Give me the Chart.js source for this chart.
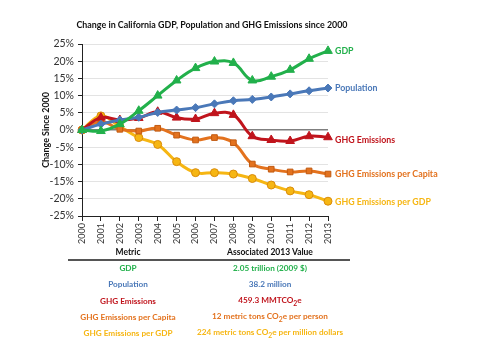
<!DOCTYPE html>
<html>
<head>
<meta charset="utf-8">
<script src="https://cdn.jsdelivr.net/npm/chart.js@4"></script>
<style>
    body { margin: 0; background: #fff; }
    .wrap { position: relative; width: 480px; height: 360px; font-family: Lato, sans-serif; }
    .chartbox { position: absolute; left: 0; top: 0; width: 480px; height: 250px; }
    .cell { position: absolute; transform: translate(-50%, -50%); white-space: nowrap; font-weight: bold; font-size: 8.2px; }
    .rule { position: absolute; left: 68px; top: 259px; width: 282px; height: 2px; background: #555; }
</style>
</head>
<body>
<div class="wrap">
    <div class="chartbox"><canvas id="chart" width="480" height="250"></canvas></div>
    <div class="rule"></div>
    <div id="table"></div>
</div>
<script>
let years = ['2000', '2001', '2002', '2003', '2004', '2005', '2006', '2007', '2008', '2009', '2010', '2011', '2012', '2013']
let gdp = [0, -0.3, 1.7, 5.6, 10.0, 14.4, 18.0, 19.9, 19.5, 14.4, 15.5, 17.5, 20.7, 23.0]
let population = [0, 1.7, 2.9, 3.7, 5.1, 5.8, 6.5, 7.6, 8.5, 8.9, 9.6, 10.5, 11.4, 12.2]
let emissions = [0, 3.6, 2.9, 3.5, 5.3, 3.6, 3.2, 4.9, 4.4, -1.8, -2.9, -3.2, -1.8, -2.1]
let perCapita = [0, 2.5, 0.2, -0.3, 0.5, -1.5, -2.9, -2.2, -3.7, -9.9, -11.4, -12.2, -11.9, -12.8]
let perGdp = [0, 4.1, 1.0, -2.2, -4.2, -9.2, -12.4, -12.4, -12.8, -14.1, -16.0, -17.7, -18.8, -20.7]
let yTicks = [25, 20, 15, 10, 5, 0, -5, -10, -15, -20, -25]

let metrics = ['GDP', 'Population', 'GHG Emissions', 'GHG Emissions per Capita', 'GHG Emissions per GDP']
let values2013 = ['2.05 trillion (2009 $)', '38.2 million', '459.3 MMTCO<sub>2</sub>e',
    '12 metric tons CO<sub>2</sub>e per person', '224 metric tons CO<sub>2</sub>e per million dollars']
let colors = ['#22b04b', '#4a78b8', '#c0141c', '#e3721e', '#f6b613']
let chartTitle = 'Change in California GDP, Population and GHG Emissions since 2000'

// tabelka pod wykresem
let table = document.querySelector('#table')
let head = [['Metric', 128], ['Associated 2013 Value', 270]]
head.forEach(h => {
    let d = document.createElement('div')
    d.className = 'cell'
    d.style.left = h[1] + 'px'
    d.style.top = '252px'
    d.style.color = '#111'
    d.style.fontSize = '8.5px'
    d.innerHTML = h[0]
    table.append(d)
})
metrics.forEach((m, i) => {
    let y = 268 + i * 16.3
    let a = document.createElement('div')
    a.className = 'cell'
    a.style.left = '128px'
    a.style.top = y + 'px'
    a.style.color = colors[i]
    a.innerHTML = m
    table.append(a)
    let b = document.createElement('div')
    b.className = 'cell'
    b.style.left = '270px'
    b.style.top = y + 'px'
    b.style.color = colors[i]
    b.innerHTML = values2013[i]
    table.append(b)
})

const endLabels = {
    id: 'endLabels',
    afterDatasetsDraw(chart) {
        let ctx = chart.ctx
        ctx.save()
        ctx.font = 'bold 8.8px Lato'
        ctx.textBaseline = 'middle'
        let shift = [0, 0, 3, 0, 1]
        chart.data.datasets.forEach((ds, i) => {
            let pts = chart.getDatasetMeta(i).data
            let p = pts[pts.length - 1]
            ctx.fillStyle = ds.borderColor
            ctx.fillText(ds.label, p.x + 7, p.y + shift[i])
        })
        // tytul
        ctx.fillStyle = '#111'
        ctx.font = 'bold 8.9px Lato'
        ctx.textAlign = 'center'
        ctx.fillText(chartTitle, 212, 25)
        ctx.restore()
    }
}

function makeSet(label, data, color, style, border, order) {
    return {
        label: label,
        data: data,
        borderColor: color,
        backgroundColor: color,
        pointBorderColor: border,
        pointBorderWidth: 1,
        pointStyle: style,
        pointRadius: style == 'triangle' ? 5 : 4,
        borderWidth: 3,
        tension: 0.4,
        order: order
    }
}

let chart = new Chart(document.querySelector('#chart'), {
    type: 'line',
    data: {
        labels: years,
        datasets: [
            makeSet('GDP', gdp, colors[0], 'triangle', colors[0], 0),
            makeSet('Population', population, colors[1], 'rectRot', colors[1], 1),
            makeSet('GHG Emissions', emissions, colors[2], 'triangle', colors[2], 2),
            makeSet('GHG Emissions per Capita', perCapita, colors[3], 'rect', '#c25a10', 3),
            makeSet('GHG Emissions per GDP', perGdp, colors[4], 'circle', '#d98b0a', 4)
        ]
    },
    options: {
        responsive: false,
        animation: false,
        layout: { padding: { left: 41, right: 152, top: 44, bottom: 0 } },
        plugins: {
            legend: { display: false },
            tooltip: { enabled: false }
        },
        scales: {
            x: {
                offset: false,
                border: { color: '#222', width: 1 },
                grid: { drawOnChartArea: false, drawTicks: true, tickLength: 5, tickColor: '#222' },
                ticks: {
                    color: '#333',
                    font: { family: 'Lato', size: 9 },
                    maxRotation: 90,
                    minRotation: 90,
                    padding: 2
                },
                afterFit: s => { s.height = 34 }
            },
            y: {
                min: -25,
                max: 25,
                border: { color: '#222', width: 1 },
                afterBuildTicks: s => { s.ticks = yTicks.map(v => ({ value: v })) },
                grid: {
                    color: c => c.tick && c.tick.value == 0 ? '#7f7f7f' : '#e3e3e3',
                    lineWidth: c => c.tick && c.tick.value == 0 ? 1.5 : 1,
                    tickLength: 4,
                    tickColor: '#222'
                },
                ticks: {
                    color: '#333',
                    font: { family: 'Lato', size: 10.5 },
                    padding: 4,
                    callback: v => v + '%'
                },
                title: {
                    display: true,
                    text: 'Change Since 2000',
                    color: '#111',
                    font: { family: 'Lato', size: 8.9, weight: 'bold' },
                    padding: { top: 0, bottom: 0 }
                },
                afterFit: s => { s.width = 41 }
            }
        }
    },
    plugins: [endLabels]
})
</script>
</body>
</html>
